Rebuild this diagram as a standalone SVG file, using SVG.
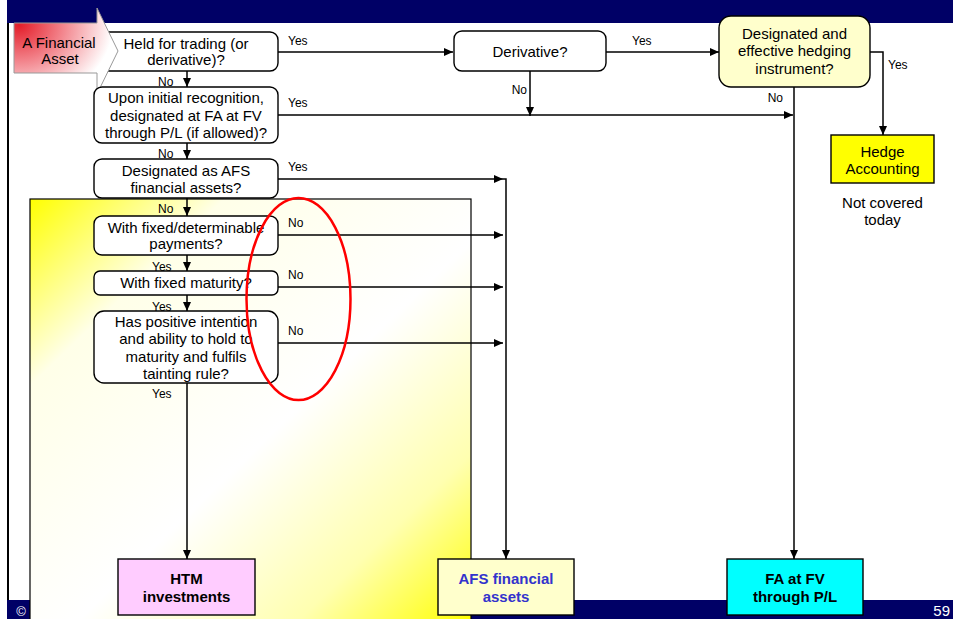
<svg xmlns="http://www.w3.org/2000/svg" width="953" height="619" viewBox="0 0 953 619">
<defs>
<style>
.node{fill:#fff;stroke:#000;stroke-width:1.4}
.t{font-family:"Liberation Sans",Arial,sans-serif;font-size:15px;fill:#000;text-anchor:middle}
.b{font-family:"Liberation Sans",Arial,sans-serif;font-size:15px;font-weight:bold;text-anchor:middle}
.l{font-family:"Liberation Sans",Arial,sans-serif;font-size:12px;fill:#000}
.c{fill:none;stroke:#000;stroke-width:1.5}
.box{stroke:#000;stroke-width:1.4}
</style>
<marker id="ah" markerUnits="userSpaceOnUse" markerWidth="10" markerHeight="8" refX="9" refY="4" orient="auto">
<path d="M0,0 L9,4 L0,8 z" fill="#000"/>
</marker>
<linearGradient id="yg" x1="0" y1="0" x2="1" y2="1">
<stop offset="0" stop-color="#FFFF00"/>
<stop offset="0.22" stop-color="#FFFFE8"/>
<stop offset="0.55" stop-color="#FFFFFF"/>
<stop offset="0.8" stop-color="#FFFFB0"/>
<stop offset="1" stop-color="#FFFF00"/>
</linearGradient>
<radialGradient id="rg" cx="0.05" cy="0.2" r="1">
<stop offset="0" stop-color="#E31E2A"/>
<stop offset="0.4" stop-color="#F27F87"/>
<stop offset="0.9" stop-color="#FFFFFF"/>
</radialGradient>
</defs>

<rect x="0" y="0" width="953" height="619" fill="#fff"/>
<rect x="7" y="0" width="946" height="23" fill="#000066"/>
<rect x="7" y="600" width="946" height="19" fill="#000066"/>
<line x1="8" y1="23" x2="8" y2="600" stroke="#000" stroke-width="2"/>
<text x="21" y="616" font-family="'Liberation Sans',Arial,sans-serif" font-size="13" fill="#fff" text-anchor="middle">©</text>
<text x="950" y="616" font-family="'Liberation Sans',Arial,sans-serif" font-size="15" fill="#fff" text-anchor="end">59</text>

<rect id="htm-region" x="30" y="199" width="441" height="425" fill="url(#yg)" stroke="#000" stroke-width="1.2"/>

<g id="connectors">
<path class="c" d="M278,52 H453" marker-end="url(#ah)"/>
<path class="c" d="M606,52 H719" marker-end="url(#ah)"/>
<path class="c" d="M870,52 H883 V135" marker-end="url(#ah)"/>
<path class="c" d="M794,87 V559" marker-end="url(#ah)"/>
<path class="c" d="M278,115 H793" marker-end="url(#ah)"/>
<path class="c" d="M530,71 V116" marker-end="url(#ah)"/>
<path class="c" d="M187,71 V87" marker-end="url(#ah)"/>
<path class="c" d="M187,143 V159" marker-end="url(#ah)"/>
<path class="c" d="M187,198 V216" marker-end="url(#ah)"/>
<path class="c" d="M187,255 V271" marker-end="url(#ah)"/>
<path class="c" d="M187,295 V311" marker-end="url(#ah)"/>
<path class="c" d="M187,383 V559" marker-end="url(#ah)"/>
<path class="c" d="M278,179 H503" marker-end="url(#ah)"/>
<path class="c" d="M278,235 H503" marker-end="url(#ah)"/>
<path class="c" d="M278,287 H503" marker-end="url(#ah)"/>
<path class="c" d="M278,343 H503" marker-end="url(#ah)"/>
<path class="c" d="M503,179 H506 V559" marker-end="url(#ah)"/>
</g>

<g id="held-for-trading">
<rect class="node" x="94" y="32" width="184" height="39" rx="8"/>
<text class="t" x="186" y="48.5">Held for trading (or</text>
<text class="t" x="186" y="65">derivative)?</text>
</g>

<g id="financial-asset">
<path d="M14,23 H97 V8 L118,51 L97,94 V73 H14 Z" fill="url(#rg)" stroke="#999" stroke-width="1"/>
<text class="t" x="59" y="47.5">A Financial</text>
<text class="t" x="60" y="64">Asset</text>
</g>

<g id="upon-initial">
<rect class="node" x="94" y="87" width="184" height="56" rx="8"/>
<text class="t" x="186" y="103">Upon initial recognition,</text>
<text class="t" x="186" y="120.5">designated at FA at FV</text>
<text class="t" x="186" y="138">through P/L (if allowed)?</text>
</g>

<g id="designated-afs">
<rect class="node" x="94" y="159" width="184" height="39" rx="8"/>
<text class="t" x="186" y="176">Designated as AFS</text>
<text class="t" x="186" y="193">financial assets?</text>
</g>

<g id="fixed-payments">
<rect class="node" x="94" y="216" width="184" height="39" rx="8"/>
<text class="t" x="186" y="232.5">With fixed/determinable</text>
<text class="t" x="186" y="249">payments?</text>
</g>

<g id="fixed-maturity">
<rect class="node" x="94" y="271" width="184" height="24" rx="6"/>
<text class="t" x="186" y="288">With fixed maturity?</text>
</g>

<g id="positive-intention">
<rect class="node" x="94" y="311" width="184" height="72" rx="10"/>
<text class="t" x="186" y="326.5">Has positive intention</text>
<text class="t" x="186" y="344">and ability to hold to</text>
<text class="t" x="186" y="361.5">maturity and fulfils</text>
<text class="t" x="186" y="378.5">tainting rule?</text>
</g>

<g id="derivative">
<rect class="node" x="454" y="31" width="152" height="40" rx="8"/>
<text class="t" x="530" y="56.5">Derivative?</text>
</g>

<g id="hedging-instrument">
<rect class="node" x="719" y="16" width="151" height="71" rx="12" style="fill:#FFFFCC"/>
<text class="t" x="794.5" y="38.5">Designated and</text>
<text class="t" x="794.5" y="56">effective hedging</text>
<text class="t" x="794.5" y="73.5">instrument?</text>
</g>

<g id="hedge-accounting">
<rect class="box" x="831" y="135" width="103" height="48" fill="#FFFF00"/>
<text class="t" x="882.5" y="156.5">Hedge</text>
<text class="t" x="882.5" y="174">Accounting</text>
</g>

<g id="not-covered">
<text class="t" x="882.5" y="207.5">Not covered</text>
<text class="t" x="882.5" y="225">today</text>
</g>

<g id="htm">
<rect class="box" x="118" y="559" width="137" height="56" fill="#FFCCFF"/>
<text class="b" x="186.5" y="583.5" fill="#000">HTM</text>
<text class="b" x="186.5" y="601.5" fill="#000">investments</text>
</g>

<g id="afs">
<rect class="box" x="438" y="559" width="136" height="56" fill="#FFFFCC"/>
<text class="b" x="506" y="583.5" fill="#3333CC">AFS financial</text>
<text class="b" x="506" y="601.5" fill="#3333CC">assets</text>
</g>

<g id="fvtpl">
<rect class="box" x="727" y="559" width="136" height="56" fill="#00FFFF"/>
<text class="b" x="795" y="583.5" fill="#000">FA at FV</text>
<text class="b" x="795" y="601.5" fill="#000">through P/L</text>
</g>

<g id="labels">
<text class="l" x="288" y="45">Yes</text>
<text class="l" x="158" y="85.5">No</text>
<text class="l" x="288" y="106.5">Yes</text>
<text class="l" x="158" y="157.5">No</text>
<text class="l" x="288" y="170.5">Yes</text>
<text class="l" x="158" y="212.5">No</text>
<text class="l" x="152" y="270.5">Yes</text>
<text class="l" x="152" y="310.5">Yes</text>
<text class="l" x="152" y="397.5">Yes</text>
<text class="l" x="288" y="226.5">No</text>
<text class="l" x="288" y="278.5">No</text>
<text class="l" x="288" y="334.5">No</text>
<text class="l" x="527" y="93.5" text-anchor="end">No</text>
<text class="l" x="632" y="45">Yes</text>
<text class="l" x="888" y="68.5">Yes</text>
<text class="l" x="783" y="101.5" text-anchor="end">No</text>
</g>

<ellipse id="highlight" cx="298.5" cy="299" rx="52" ry="101" fill="none" stroke="#FF0000" stroke-width="2.5"/>
</svg>
